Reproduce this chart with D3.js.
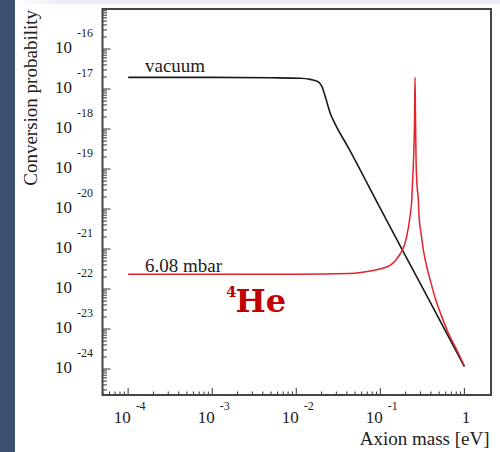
<!DOCTYPE html>
<html><head><meta charset="utf-8">
<script src="https://cdn.jsdelivr.net/npm/d3@7"></script>
<style>
html,body{margin:0;padding:0;background:#fff;}
svg{display:block;}
text{font-family:"Liberation Serif","Times New Roman",serif;fill:#222;}
</style></head>
<body>
<svg id="chart" width="500" height="452"></svg>
<script>
// ---- data ----
const vacuumMass = [1e-4, 1e-3, 5.0e-3, 0.01117, 0.01469, 0.01828, 0.02023, 0.02213, 0.02541, 0.02754, 0.04198, 0.1, 0.3162, 1];
const vacuumProb = [1.95e-17, 1.95e-17, 1.91e-17, 1.86e-17, 1.74e-17, 1.51e-17, 1.15e-17, 6.46e-18, 2.45e-18, 1.66e-18, 3.31e-19, 1.03e-20, 1.10e-22, 1.15e-24];

const heliumMass = [1e-4, 1e-3, 1e-2, 0.04355, 0.07534, 0.1087, 0.1303, 0.1496, 0.1718, 0.1828, 0.1968, 0.2153, 0.2259, 0.2366, 0.2415, 0.2483, 0.2553, 0.2588, 0.2624, 0.2661, 0.2710, 0.2831, 0.2891, 0.3055, 0.3251, 0.3565, 0.4018, 0.4571, 0.5383, 0.6457, 0.8128, 1];
const heliumProb = [2.34e-22, 2.34e-22, 2.34e-22, 2.45e-22, 2.82e-22, 3.35e-22, 3.89e-22, 5.01e-22, 7.50e-22, 9.44e-22, 1.41e-21, 3.35e-21, 6.68e-21, 1.68e-20, 4.47e-20, 1.68e-19, 1.68e-18, 1.95e-17, 1.68e-18, 1.68e-19, 5.31e-20, 1.68e-20, 6.46e-21, 2.45e-21, 9.44e-22, 3.63e-22, 1.38e-22, 5.31e-23, 2.04e-23, 7.76e-24, 2.99e-24, 1.20e-24];

const xTickExps = [-4, -3, -2, -1, 0];
const yTickExps = [-16, -17, -18, -19, -20, -21, -22, -23, -24];
const seriesLabels = ["vacuum", "6.08 mbar"];
const xTitle = "Axion mass [eV]";
const yTitle = "Conversion probability";

// ---- layout ----
const svg = d3.select("#chart");
const L = 102.5, R = 491, T = 9, B = 395;

// background decorations
const defs = svg.append("defs");
const g1 = defs.append("linearGradient").attr("id", "topband").attr("x1", 0).attr("x2", 1);
g1.append("stop").attr("offset", "0").attr("stop-color", "#ffffff");
g1.append("stop").attr("offset", "0.1").attr("stop-color", "#ecebf6");
g1.append("stop").attr("offset", "1").attr("stop-color", "#eeedf6");
svg.append("rect").attr("x", 15).attr("y", 0).attr("width", 485).attr("height", 4.5).attr("fill", "url(#topband)");
svg.append("rect").attr("x", 0).attr("y", 0).attr("width", 15).attr("height", 452).attr("fill", "#3e5172");

const x = d3.scaleLog().domain([Math.pow(10, -4.305), Math.pow(10, 0.3166)]).range([L, R]);
const y = d3.scaleLog().domain([Math.pow(10, -24.65), 1e-15]).range([B, T]);

// ticks
const tg = svg.append("g").attr("stroke", "#333").attr("stroke-width", 1);
for (let e = -5; e <= 0; e++) {
  for (let k = 1; k <= 9; k++) {
    const v = k * Math.pow(10, e);
    if (v < x.domain()[0] || v > 1.0001) continue;
    const px = x(v);
    const len = k === 1 ? 7 : 3.5;
    tg.append("line").attr("x1", px).attr("x2", px).attr("y1", B).attr("y2", B - len);
  }
}
for (let e = -25; e <= -16; e++) {
  for (let k = 1; k <= 9; k++) {
    const v = k * Math.pow(10, e);
    if (v < y.domain()[0] || v > y.domain()[1] * 1.0001) continue;
    const py = y(v);
    const len = k === 1 ? 8 : 4.5;
    tg.append("line").attr("x1", L).attr("x2", L + len).attr("y1", py).attr("y2", py);
  }
}

// frame
svg.append("rect").attr("x", L).attr("y", T).attr("width", R - L).attr("height", B - T)
  .attr("fill", "none").attr("stroke", "#444").attr("stroke-width", 2);

// x tick labels
xTickExps.forEach(e => {
  const px = x(Math.pow(10, e));
  const t = svg.append("text").attr("x", px + 1.5).attr("y", 423).attr("text-anchor", "middle").attr("font-size", 17);
  if (e === 0) { t.text("1"); }
  else {
    t.append("tspan").text("10");
    t.append("tspan").attr("dx", 5).attr("dy", -13).attr("font-size", 12).text(String(e));
  }
});

// y tick labels
yTickExps.forEach(e => {
  const py = y(Math.pow(10, e));
  const t = svg.append("text").attr("x", 93).attr("y", py + 4.3).attr("text-anchor", "end").attr("font-size", 17);
  t.append("tspan").text("10");
  t.append("tspan").attr("dx", 5).attr("dy", -16).attr("font-size", 12).text(String(e));
});

// axis titles
svg.append("text").attr("x", 489.5).attr("y", 445).attr("text-anchor", "end").attr("font-size", 19).text(xTitle);
svg.append("text").attr("transform", "translate(37,10) rotate(-90)").attr("text-anchor", "end").attr("font-size", 19).text(yTitle);

// curves
const line = d3.line().x(d => x(d[0])).y(d => y(d[1])).curve(d3.curveMonotoneX);
svg.append("path").datum(vacuumMass.map((m, i) => [m, vacuumProb[i]]))
  .attr("d", line).attr("fill", "none").attr("stroke", "#1a1a1a").attr("stroke-width", 1.6);
svg.append("path").datum(heliumMass.map((m, i) => [m, heliumProb[i]]))
  .attr("d", line).attr("fill", "none").attr("stroke", "#e3222c").attr("stroke-width", 1.5);

// series labels
svg.append("text").attr("x", 145).attr("y", 72).attr("font-size", 19).text(seriesLabels[0]);
svg.append("text").attr("x", 145).attr("y", 271.5).attr("font-size", 19).text(seriesLabels[1]);

// 4He label
const he = svg.append("text").attr("x", 226).attr("y", 312)
  .style("font-family", "'DejaVu Serif', serif").style("fill", "#c00000").attr("font-weight", "bold");
he.append("tspan").attr("font-size", 15).attr("dy", -15).text("4");
he.append("tspan").attr("font-size", 32).attr("dy", 15).attr("dx", -1).text("He");
</script>
</body></html>
